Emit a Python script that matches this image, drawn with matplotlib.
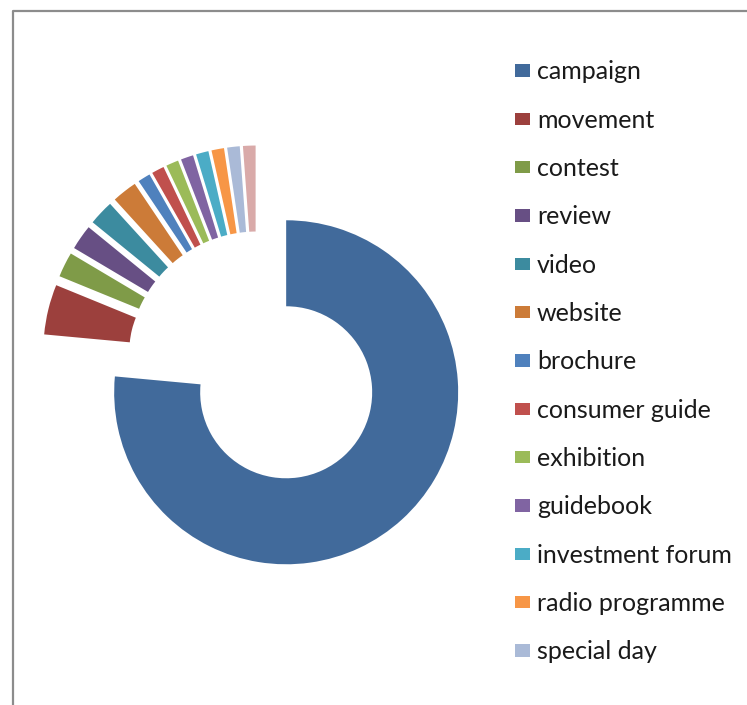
import matplotlib
matplotlib.use('Agg')
import matplotlib.pyplot as plt
from matplotlib.patches import Rectangle
from matplotlib.lines import Line2D

# counts per promotion channel
labels = ['campaign', 'movement', 'contest', 'review', 'video', 'website',
          'brochure', 'consumer guide', 'exhibition', 'guidebook',
          'investment forum', 'radio programme', 'special day', 'other']
counts = [65, 4, 2, 2, 2, 2, 1, 1, 1, 1, 1, 1, 1, 1]
colors = ['#416A9B', '#9C403D', '#7F9B48', '#674F84', '#3C8B9F', '#CC7B38',
          '#4F81BD', '#C0504D', '#9BBB59', '#8064A2', '#4BACC6', '#F79646',
          '#AABAD7', '#D9AAA9']

W, H = 747, 705
fig = plt.figure(figsize=(W / 100, H / 100), dpi=100)
ax = fig.add_axes([0, 0, 1, 1])

# pie radius 1 -> 172 px, centre placed at (257, 360) from the top-left
px = 172.0
cx, cy = 257.2, H - 360.5
ax.pie(counts, colors=colors, startangle=90, counterclock=False,
       explode=[0.25] * len(counts), radius=1.0,
       wedgeprops=dict(width=0.5, linewidth=0))
ax.set_aspect('auto')
ax.set_xlim(-cx / px, (W - cx) / px)
ax.set_ylim(-cy / px, (H - cy) / px)
ax.axis('off')

# frame along the top and left edges
fig.add_artist(Line2D([13 / W, 13 / W, 1.0], [0.0, 1 - 11 / H, 1 - 11 / H],
                      transform=fig.transFigure, color='#8c8c8c', lw=1.6))

# legend built by hand; only 13 entries fit in the box
step = 48.33
for i, (lab, col) in enumerate(zip(labels[:13], colors[:13])):
    top = 64.3 + i * step
    fig.add_artist(Rectangle((515 / W, 1 - (top + 12.4) / H), 15 / W, 12.4 / H,
                             transform=fig.transFigure, color=col, lw=0))
    fig.text(537 / W, 1 - (top + 15.0) / H, lab, fontsize=18, family='Lato',
             color='#1a1a1a', va='baseline', ha='left')

fig.savefig('out.png', dpi=100, facecolor='white')
